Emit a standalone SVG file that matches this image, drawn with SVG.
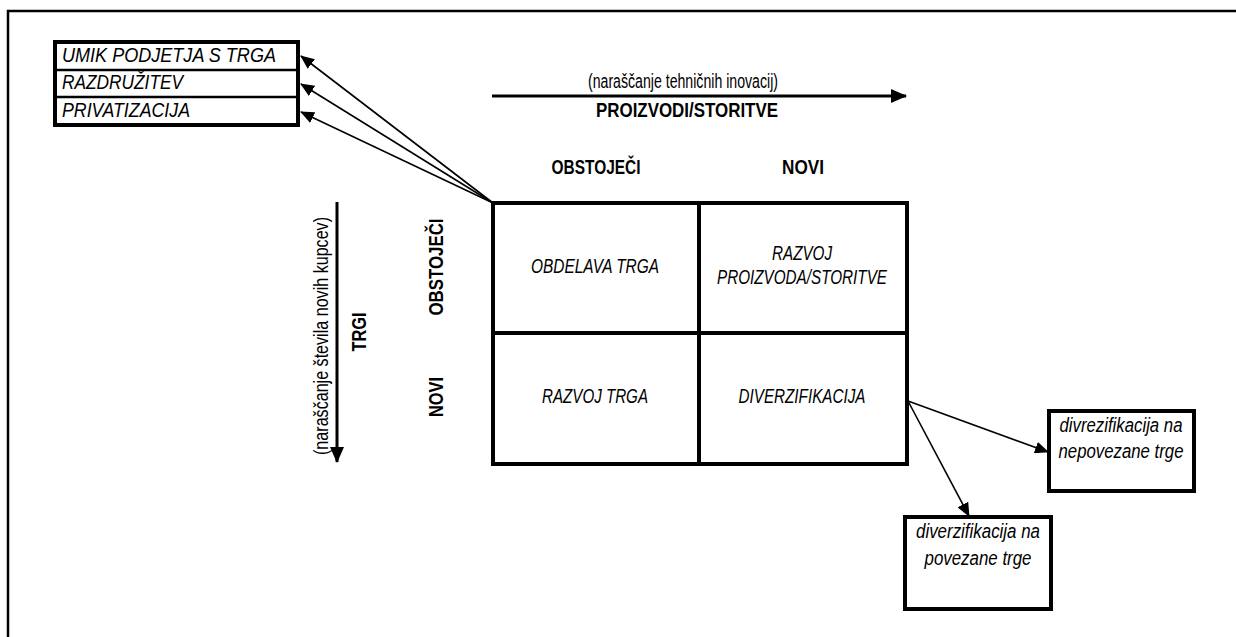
<svg xmlns="http://www.w3.org/2000/svg" width="1236" height="637" viewBox="0 0 1236 637">
<style>
text{font-family:"Liberation Sans",Arial,sans-serif;fill:#000}
.it{font-style:italic;font-size:19.5px}
.rg{font-size:19.5px}
.bd{font-weight:bold;font-size:20px}
.box{fill:#fff;stroke:#000;stroke-width:4}
.thin{stroke:#000;stroke-width:1.6;fill:none}
.axis{stroke:#000;stroke-width:3;fill:none}
</style>
<defs>
<marker id="ah" markerUnits="userSpaceOnUse" markerWidth="14" markerHeight="12" refX="13" refY="6" orient="auto">
<path d="M0,0 L14,6 L0,12 Z" fill="#000"/>
</marker>
<marker id="ahb" markerUnits="userSpaceOnUse" markerWidth="16" markerHeight="14" refX="15" refY="7" orient="auto">
<path d="M0,0 L16,7 L0,14 Z" fill="#000"/>
</marker>
</defs>
<rect x="8" y="11" width="1300" height="700" fill="none" stroke="#000" stroke-width="2.5"/>

<g id="exit-options">
<rect class="box" x="55" y="42" width="243" height="83"/>
<line x1="55" y1="70" x2="298" y2="70" stroke="#000" stroke-width="2.5"/>
<line x1="55" y1="97" x2="298" y2="97" stroke="#000" stroke-width="2.5"/>
<text class="it" x="62" y="62" textLength="214" lengthAdjust="spacingAndGlyphs">UMIK PODJETJA S TRGA</text>
<text class="it" x="62" y="89" textLength="121" lengthAdjust="spacingAndGlyphs">RAZDRUŽITEV</text>
<text class="it" x="62" y="117" textLength="128" lengthAdjust="spacingAndGlyphs">PRIVATIZACIJA</text>
</g>

<g id="top-axis">
<text class="rg" x="683" y="88" text-anchor="middle" textLength="190" lengthAdjust="spacingAndGlyphs">(naraščanje tehničnih inovacij)</text>
<text class="bd" x="687" y="117" text-anchor="middle" textLength="182" lengthAdjust="spacingAndGlyphs">PROIZVODI/STORITVE</text>
<text class="bd" x="596" y="174" text-anchor="middle" textLength="89" lengthAdjust="spacingAndGlyphs">OBSTOJEČI</text>
<text class="bd" x="803" y="174" text-anchor="middle" textLength="42" lengthAdjust="spacingAndGlyphs">NOVI</text>
</g>

<g id="left-axis">
<text class="rg" transform="translate(328,336) rotate(-90)" text-anchor="middle" textLength="238" lengthAdjust="spacingAndGlyphs">(naraščanje števila novih kupcev)</text>
<text class="bd" transform="translate(366,332) rotate(-90)" text-anchor="middle" textLength="39" lengthAdjust="spacingAndGlyphs">TRGI</text>
<text class="bd" transform="translate(443,267) rotate(-90)" text-anchor="middle" textLength="97" lengthAdjust="spacingAndGlyphs">OBSTOJEČI</text>
<text class="bd" transform="translate(443,397) rotate(-90)" text-anchor="middle" textLength="40" lengthAdjust="spacingAndGlyphs">NOVI</text>
</g>

<g id="matrix">
<rect class="box" x="493" y="203" width="414" height="261"/>
<line x1="699" y1="203" x2="699" y2="464" stroke="#000" stroke-width="4"/>
<line x1="493" y1="333" x2="907" y2="333" stroke="#000" stroke-width="4"/>
</g>
<g id="cell-obdelava"><text class="it" x="595" y="273" text-anchor="middle" textLength="128" lengthAdjust="spacingAndGlyphs">OBDELAVA TRGA</text></g>
<g id="cell-razvoj-proizvoda">
<text class="it" x="802" y="260" text-anchor="middle" textLength="60" lengthAdjust="spacingAndGlyphs">RAZVOJ</text>
<text class="it" x="802" y="284" text-anchor="middle" textLength="170" lengthAdjust="spacingAndGlyphs">PROIZVODA/STORITVE</text>
</g>
<g id="cell-razvoj-trga"><text class="it" x="595" y="403" text-anchor="middle" textLength="106" lengthAdjust="spacingAndGlyphs">RAZVOJ TRGA</text></g>
<g id="cell-diverzifikacija"><text class="it" x="802" y="403" text-anchor="middle" textLength="127" lengthAdjust="spacingAndGlyphs">DIVERZIFIKACIJA</text></g>

<g id="unrelated">
<rect class="box" x="1049" y="411" width="145" height="80"/>
<text class="it" x="1121" y="432" text-anchor="middle" textLength="123" lengthAdjust="spacingAndGlyphs">divrezifikacija na</text>
<text class="it" x="1121" y="458" text-anchor="middle" textLength="125" lengthAdjust="spacingAndGlyphs">nepovezane trge</text>
</g>
<g id="related">
<rect class="box" x="905" y="517" width="146" height="92"/>
<text class="it" x="978" y="538" text-anchor="middle" textLength="124" lengthAdjust="spacingAndGlyphs">diverzifikacija na</text>
<text class="it" x="978" y="565" text-anchor="middle" textLength="107" lengthAdjust="spacingAndGlyphs">povezane trge</text>
</g>

<g id="connectors">
<line class="axis" x1="492" y1="96" x2="906" y2="96" marker-end="url(#ahb)"/>
<line class="axis" x1="337" y1="202" x2="337" y2="462" marker-end="url(#ahb)"/>
<line class="thin" x1="493" y1="203" x2="301" y2="56" marker-end="url(#ah)"/>
<line class="thin" x1="493" y1="203" x2="301" y2="84" marker-end="url(#ah)"/>
<line class="thin" x1="493" y1="203" x2="301" y2="112" marker-end="url(#ah)"/>
<line class="thin" x1="908" y1="401" x2="1048" y2="452" marker-end="url(#ah)"/>
<line class="thin" x1="908" y1="401" x2="969" y2="516" marker-end="url(#ah)"/>
</g>
</svg>
